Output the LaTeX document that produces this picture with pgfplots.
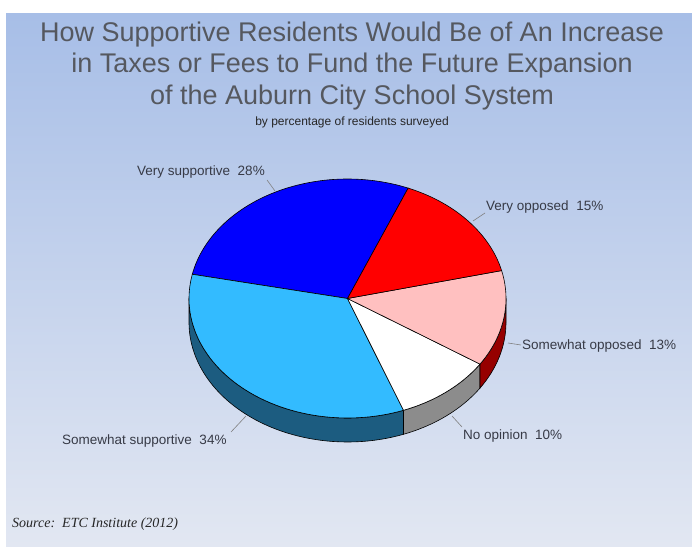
\documentclass[border=0pt]{standalone}
\usepackage{pgfplots}
\pgfplotsset{compat=1.18}
\usepackage{pgfplotstable}
\usepackage{fontspec}
\setmainfont{Liberation Sans}
\newfontfamily\seriffont{Liberation Serif}

\definecolor{bgtop}{RGB}{167,190,231}
\definecolor{bgbot}{RGB}{226,231,242}
\definecolor{cblue}{RGB}{0,0,255}
\definecolor{cred}{RGB}{255,0,0}
\definecolor{cpink}{RGB}{255,192,192}
\definecolor{clight}{RGB}{51,187,255}
\definecolor{sidelight}{RGB}{28,92,128}
\definecolor{sidewhite}{RGB}{140,140,140}
\definecolor{sidepink}{RGB}{150,0,0}
\definecolor{titlegray}{RGB}{85,88,95}
\definecolor{labelgray}{RGB}{55,58,70}

% shares in counter-clockwise order, starting at the blue/red boundary
\pgfplotstableread{
slice value
verysupportive 28
somewhatsupportive 34
noopinion 10
somewhatopposed 13
veryopposed 15
}\piedata

\pgfplotstablegetelem{0}{value}\of\piedata \let\vA\pgfplotsretval
\pgfplotstablegetelem{1}{value}\of\piedata \let\vB\pgfplotsretval
\pgfplotstablegetelem{2}{value}\of\piedata \let\vC\pgfplotsretval
\pgfplotstablegetelem{3}{value}\of\piedata \let\vD\pgfplotsretval
\pgfplotstablegetelem{4}{value}\of\piedata \let\vE\pgfplotsretval

\pgfmathsetmacro\aZ{67.5}
\pgfmathsetmacro\aA{\aZ+3.6*\vA}
\pgfmathsetmacro\aB{\aA+3.6*\vB}
\pgfmathsetmacro\aC{\aB+3.6*\vC}
\pgfmathsetmacro\aD{\aC+3.6*\vD}
\pgfmathsetmacro\aE{\aD+3.6*\vE}

\def\cx{347.5}
\def\cy{247.5}
\def\rx{158.5}
\def\ry{119.5}
\def\dd{24}

\begin{document}
\begin{tikzpicture}
\useasboundingbox (0,0) rectangle (692pt,546pt);
\fill[white] (0,0) rectangle (692pt,546pt);
\fill[top color=bgtop, bottom color=bgbot] (6pt,0pt) rectangle (692pt,532pt);
\begin{axis}[
  at={(0,0)}, anchor=south west,
  scale only axis, width=692pt, height=546pt,
  xmin=0, xmax=692, ymin=0, ymax=546,
  hide axis, clip=false,
  /pgf/number format/assume math mode=true,
]
% sides (front part only)
\addplot[draw=black, line width=0.6pt, fill=sidelight, domain=180:\aB, samples=60]
  ({\cx+\rx*cos(x)},{\cy+\ry*sin(x)})
  -- ({\cx+\rx*cos(\aB)},{\cy+\ry*sin(\aB)-\dd})
  arc[start angle=\aB, end angle=180, x radius=\rx pt, y radius=\ry pt] -- cycle;
\addplot[draw=black, line width=0.6pt, fill=sidewhite, domain=\aB:\aC, samples=30]
  ({\cx+\rx*cos(x)},{\cy+\ry*sin(x)})
  -- ({\cx+\rx*cos(\aC)},{\cy+\ry*sin(\aC)-\dd})
  arc[start angle=\aC, end angle=\aB, x radius=\rx pt, y radius=\ry pt] -- cycle;
\addplot[draw=black, line width=0.6pt, fill=sidepink, domain=\aC:360, samples=30]
  ({\cx+\rx*cos(x)},{\cy+\ry*sin(x)})
  -- ({\cx+\rx},{\cy-\dd})
  arc[start angle=360, end angle=\aC, x radius=\rx pt, y radius=\ry pt] -- cycle;
% top faces
\addplot[draw=black, line width=0.6pt, fill=cblue, domain=\aZ:\aA, samples=60]
  ({\cx+\rx*cos(x)},{\cy+\ry*sin(x)}) -- (\cx,\cy) -- cycle;
\addplot[draw=black, line width=0.6pt, fill=clight, domain=\aA:\aB, samples=60]
  ({\cx+\rx*cos(x)},{\cy+\ry*sin(x)}) -- (\cx,\cy) -- cycle;
\addplot[draw=black, line width=0.6pt, fill=white, domain=\aB:\aC, samples=30]
  ({\cx+\rx*cos(x)},{\cy+\ry*sin(x)}) -- (\cx,\cy) -- cycle;
\addplot[draw=black, line width=0.6pt, fill=cpink, domain=\aC:\aD, samples=30]
  ({\cx+\rx*cos(x)},{\cy+\ry*sin(x)}) -- (\cx,\cy) -- cycle;
\addplot[draw=black, line width=0.6pt, fill=cred, domain=\aD:\aE, samples=30]
  ({\cx+\rx*cos(x)},{\cy+\ry*sin(x)}) -- (\cx,\cy) -- cycle;
% leader lines
\addplot[gray, line width=0.6pt] coordinates {(267,366) (275,355)};
\addplot[gray, line width=0.6pt] coordinates {(485,333) (473,325)};
\addplot[gray, line width=0.6pt] coordinates {(508,203) (521,201)};
\addplot[gray, line width=0.6pt] coordinates {(452,130) (462,119)};
\addplot[gray, line width=0.6pt] coordinates {(246,130) (231,114)};
% labels
\node[anchor=base west, inner sep=0, text=labelgray, font=\fontsize{13.5}{16}\selectfont] at (axis cs:137,370) {Very supportive\ \ 28\%};
\node[anchor=base west, inner sep=0, text=labelgray, font=\fontsize{13.5}{16}\selectfont] at (axis cs:486,335) {Very opposed\ \ 15\%};
\node[anchor=base west, inner sep=0, text=labelgray, font=\fontsize{13.5}{16}\selectfont] at (axis cs:522,196) {Somewhat opposed\ \ 13\%};
\node[anchor=base west, inner sep=0, text=labelgray, font=\fontsize{13.5}{16}\selectfont] at (axis cs:463,107) {No opinion\ \ 10\%};
\node[anchor=base west, inner sep=0, text=labelgray, font=\fontsize{13.5}{16}\selectfont] at (axis cs:62,102) {Somewhat supportive\ \ 34\%};
% titles
\node[anchor=base, inner sep=0, text=titlegray, font=\fontsize{27}{31}\selectfont] at (axis cs:352,504) {How Supportive Residents Would Be of An Increase};
\node[anchor=base, inner sep=0, text=titlegray, font=\fontsize{27}{31}\selectfont] at (axis cs:352,473) {in Taxes or Fees to Fund the Future Expansion};
\node[anchor=base, inner sep=0, text=titlegray, font=\fontsize{27}{31}\selectfont] at (axis cs:352,441) {of the Auburn City School System};
\node[anchor=base, inner sep=0, text=black!85, font=\fontsize{12}{14}\selectfont] at (axis cs:352,420) {by percentage of residents surveyed};
\node[anchor=base west, inner sep=0, text=black!85, font=\seriffont\itshape\fontsize{14}{16}\selectfont] at (axis cs:12,19) {Source:\ \ ETC Institute (2012)};
\end{axis}
\end{tikzpicture}
\end{document}
